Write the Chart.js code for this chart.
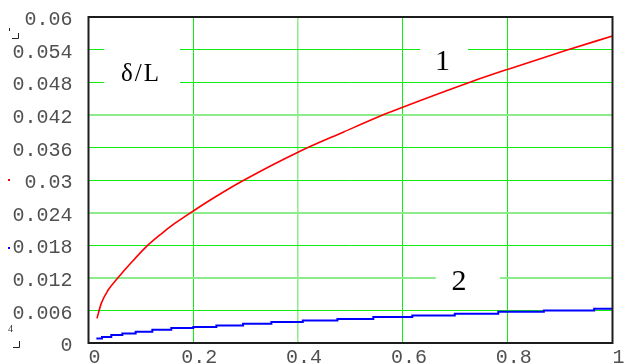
<!DOCTYPE html>
<html lang="en">
<head>
  <meta charset="UTF-8" />
  <title>delta / L</title>
  <script src="https://cdn.jsdelivr.net/npm/chart.js"></script>
  <style>
    body {
      margin: 0;
      background: #fff;
    }
    .wrap {
      width: 624px;
      height: 363px;
      position: relative;
    }
  </style>
</head>
<body>
  <div class="wrap">
    <canvas id="plot"></canvas>
  </div>

  <script>
    // curve 1 (red)
    const redX = [0.0162, 0.0244, 0.0372, 0.0563, 0.0817, 0.110, 0.139, 0.1645, 0.200, 0.244, 0.2954,
                  0.4017, 0.486, 0.5626, 0.5996, 0.728, 0.801, 0.909, 1.0];
    const redY = [0.00453, 0.00729, 0.0097, 0.0120, 0.0148, 0.0177, 0.0201, 0.0220, 0.0243, 0.0270, 0.0299,
                  0.0352, 0.0388, 0.0420, 0.0434, 0.0480, 0.0504, 0.0538, 0.0565];

    // curve 2 (blue, stepped) - x where each step starts
    const blueX = [0.015, 0.0258, 0.0435, 0.0646, 0.090, 0.1218, 0.158, 0.200, 0.244, 0.295, 0.349, 0.409,
                   0.475, 0.5435, 0.618, 0.699, 0.782, 0.869, 0.965, 1.0];
    const blueY = [0.00085, 0.00109, 0.00145, 0.00176, 0.00206, 0.00243, 0.00274, 0.00293, 0.00324, 0.00353,
                   0.00385, 0.00416, 0.0044, 0.00477, 0.00508, 0.00538, 0.00575, 0.0060, 0.0063, 0.0063];

    const xTickLabels = ["0", "0.2", "0.4", "0.6", "0.8", "1"];
    const yTickLabels = ["0", "0.006", "0.012", "0.018", "0.024", "0.03", "0.036", "0.042", "0.048", "0.054", "0.06"];

    const GREEN = "#10ec10";
    const LIGHT = "#8cec8c";

    // labels inside the plot, with a white patch behind them
    const notes = [
      { text: "\u03b4/L", x: 0.100, y: 0.0483, size: 25, spacing: "2px", box: [0.030, 0.1746, 0.0462, 0.0557] },
      { text: "1", x: 0.6756, y: 0.05023, size: 30, spacing: "0px", box: [0.6326, 0.7242, 0.0499, 0.0556] },
      { text: "2", x: 0.7071, y: 0.00974, size: 30, spacing: "0px", box: [0.6626, 0.7853, 0.00937, 0.01415] }
    ];

    const notesPlugin = {
      id: "notes",
      beforeDatasetsDraw(chart) {
        const { ctx, scales: { x, y } } = chart;
        ctx.save();
        notes.forEach(n => {
          const b = n.box;
          const x0 = x.getPixelForValue(b[0]), x1 = x.getPixelForValue(b[1]);
          const y0 = y.getPixelForValue(b[3]), y1 = y.getPixelForValue(b[2]);
          ctx.fillStyle = "#fff";
          ctx.fillRect(x0, y0, x1 - x0, y1 - y0);
          ctx.fillStyle = "#000";
          ctx.font = n.size + "px 'Liberation Serif', serif";
          ctx.letterSpacing = n.spacing;
          ctx.textAlign = "center";
          ctx.textBaseline = "alphabetic";
          ctx.fillText(n.text, x.getPixelForValue(n.x), y.getPixelForValue(n.y));
        });
        ctx.restore();
      },
      afterDraw(chart) {
        const { ctx, chartArea: a } = chart;
        ctx.save();
        ctx.strokeStyle = "#1c1c1c";
        ctx.lineWidth = 2;
        ctx.strokeRect(a.left, a.top, a.right - a.left, a.bottom - a.top);

        // leftovers of the legend at the far left
        ctx.lineWidth = 1;
        ctx.strokeStyle = "#222";
        ctx.beginPath();
        ctx.moveTo(9.5, 28); ctx.lineTo(9.5, 31);
        ctx.moveTo(12, 38.5); ctx.lineTo(18.5, 38.5); ctx.lineTo(18.5, 33);
        ctx.moveTo(13, 347.5); ctx.lineTo(19.5, 347.5); ctx.lineTo(19.5, 341);
        ctx.stroke();
        ctx.fillStyle = "#ff0000";
        ctx.fillRect(8, 179, 2, 2);
        ctx.fillStyle = "#0000ff";
        ctx.fillRect(8, 247, 2, 2);
        ctx.fillStyle = "#333";
        ctx.font = "10px 'Liberation Serif', serif";
        ctx.fillText("4", 8, 332);
        ctx.restore();
      }
    };

    new Chart(document.getElementById("plot"), {
      type: "line",
      data: {
        datasets: [
          {
            label: "1",
            data: redX.map((v, i) => ({ x: v, y: redY[i] })),
            borderColor: "#ff0000",
            borderWidth: 1.6,
            pointRadius: 0,
            cubicInterpolationMode: "monotone"
          },
          {
            label: "2",
            data: blueX.map((v, i) => ({ x: v, y: blueY[i] })),
            borderColor: "#0000ff",
            borderWidth: 2,
            pointRadius: 0,
            stepped: "before"
          }
        ]
      },
      options: {
        responsive: true,
        maintainAspectRatio: false,
        animation: false,
        layout: { padding: { top: 17, right: 11.5, left: 0, bottom: 0 } },
        plugins: {
          legend: { display: false },
          tooltip: { enabled: false }
        },
        scales: {
          x: {
            type: "linear",
            min: 0,
            max: 1,
            afterFit(scale) {
              scale.height = 20;
              scale.paddingLeft = 0;
              scale.paddingRight = 0;
            },
            afterBuildTicks(scale) {
              scale.ticks = xTickLabels.map(t => ({ value: parseFloat(t) }));
            },
            grid: {
              drawTicks: false,
              color: ctx => (ctx.index === 2 ? LIGHT : GREEN),
              lineWidth: ctx => (ctx.index === 2 ? 1.5 : 1)
            },
            border: { display: false },
            ticks: {
              autoSkip: false,
              maxRotation: 0,
              padding: 3,
              labelOffset: 6,
              color: "#505050",
              font: { family: "'Liberation Mono', monospace", size: 20 },
              callback: (v, i) => xTickLabels[i]
            }
          },
          y: {
            min: 0,
            max: 0.06,
            afterFit(scale) {
              scale.width = 88.5;
              scale.paddingTop = 0;
              scale.paddingBottom = 0;
            },
            afterBuildTicks(scale) {
              scale.ticks = yTickLabels.map(t => ({ value: parseFloat(t) }));
            },
            grid: {
              drawTicks: false,
              color: ctx => ([2, 4, 7].includes(ctx.index) ? LIGHT : GREEN),
              lineWidth: ctx => ([2, 4, 7].includes(ctx.index) ? 2 : 1)
            },
            border: { display: false },
            ticks: {
              autoSkip: false,
              padding: 16,
              labelOffset: 3,
              color: "#505050",
              font: { family: "'Liberation Mono', monospace", size: 20 },
              callback: (v, i) => yTickLabels[i]
            }
          }
        }
      },
      plugins: [notesPlugin]
    });
  </script>
</body>
</html>
